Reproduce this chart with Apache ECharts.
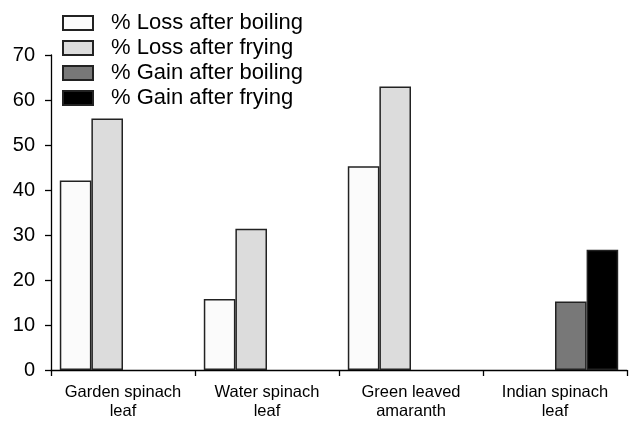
<!DOCTYPE html>
<html>
<head>
<meta charset="utf-8">
<script src="https://cdn.jsdelivr.net/npm/echarts@6/dist/echarts.min.js"></script>
<style>html,body{margin:0;padding:0;background:#fff}#c{width:642px;height:429px}</style>
</head>
<body>
<div id="c"></div>
<script>
var categories = ['Garden spinach\nleaf', 'Water spinach\nleaf', 'Green leaved\namaranth', 'Indian spinach\nleaf'];
var seriesNames = ['% Loss after boiling', '% Loss after frying', '% Gain after boiling', '% Gain after frying'];
var lossBoiling = [42.1, 15.8, 45.3, null];
var lossFrying = [55.9, 31.4, 63.0, null];
var gainBoiling = [null, null, null, 15.2];
var gainFrying = [null, null, null, 26.7];
var yTicks = { min: 0, max: 70, interval: 10 };

var fills = ['#fbfbfb', '#dcdcdc', '#787878', '#000000'];
var values = [lossBoiling, lossFrying, gainBoiling, gainFrying];
var font = 'Liberation Sans, Arial, sans-serif';

var chart = echarts.init(document.getElementById('c'), null, { renderer: 'canvas' });
chart.setOption({
  animation: false,
  backgroundColor: '#fff',
  grid: { left: 51, right: 15, top: 55, bottom: 59, containLabel: false },
  legend: {
    orient: 'vertical',
    left: 62,
    top: 10.5,
    padding: 0,
    itemWidth: 30,
    itemHeight: 14,
    itemGap: 0,
    icon: 'rect',
    textStyle: { fontSize: 22, color: '#000', fontFamily: font, lineHeight: 25, padding: [0, 0, 0, 13] },
    data: seriesNames
  },
  xAxis: {
    type: 'category',
    data: categories,
    boundaryGap: true,
    axisLine: { lineStyle: { color: '#000', width: 1.3 } },
    axisTick: { show: true, interval: 0, length: 6, lineStyle: { color: '#000', width: 1.3 } },
    axisLabel: { interval: 0, fontSize: 16.5, color: '#000', fontFamily: font, lineHeight: 19, margin: 13 }
  },
  yAxis: {
    type: 'value',
    min: yTicks.min,
    max: yTicks.max,
    interval: yTicks.interval,
    axisLine: { show: true, lineStyle: { color: '#000', width: 1.3 } },
    axisTick: { show: true, length: 6, lineStyle: { color: '#000', width: 1.3 } },
    splitLine: { show: false },
    axisLabel: { fontSize: 20, color: '#000', fontFamily: font, margin: 16 }
  },
  series: seriesNames.map(function (n, i) {
    return {
      name: n,
      type: 'bar',
      data: values[i],
      barWidth: 31.6,
      barGap: '0%',
      itemStyle: { color: fills[i], borderColor: '#222', borderWidth: 1.5 }
    };
  })
});
</script>
</body>
</html>
